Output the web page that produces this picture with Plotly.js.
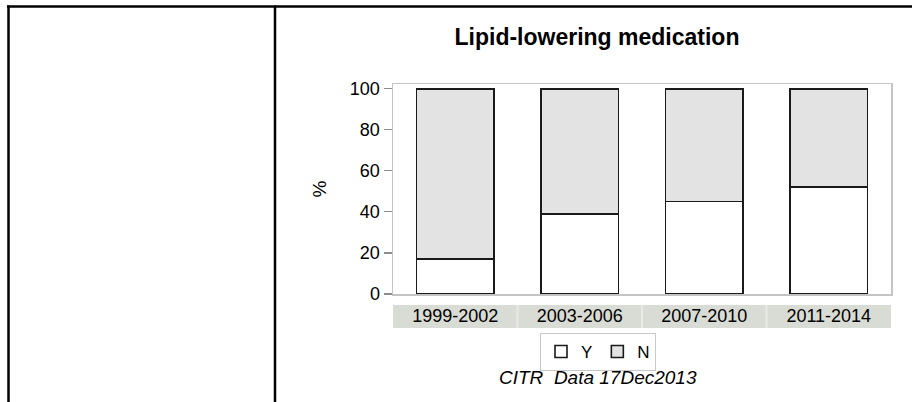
<!DOCTYPE html>
<html>
<head>
<meta charset="utf-8">
<script src="https://cdn.plot.ly/plotly-3.0.1.min.js"></script>
<style>
  html, body { margin: 0; padding: 0; background: #ffffff; }
  #chart { width: 912px; height: 402px; }
</style>
</head>
<body>
<div id="chart"></div>
<script>
// ---- data ----
var periods = ['1999-2002', '2003-2006', '2007-2010', '2011-2014'];
var pctYes = [17, 39, 45, 52];
var pctNo = [83, 61, 55, 48];
var seriesNames = ['Y', 'N'];
var yTicks = [0, 20, 40, 60, 80, 100];
var chartTitle = 'Lipid-lowering medication';
var yTitle = '%';
var footnote = 'CITR  Data 17Dec2013';

// ---- geometry (pixels) ----
var W = 912, H = 402;
var plotL = 393, plotR = 891, plotT = 84, plotB = 294;
var pw = plotR - plotL, ph = plotB - plotT;
function px2x(p) { return (p - plotL) / pw; }
function py2y(p) { return (plotB - p) / ph; }

var FONT = 'Liberation Sans, Arial, sans-serif';

var traces = [
  {
    type: 'bar', name: seriesNames[0], x: periods, y: pctYes,
    marker: { color: '#ffffff', line: { color: '#1a1a1a', width: 1.6 } },
    hoverinfo: 'skip'
  },
  {
    type: 'bar', name: seriesNames[1], x: periods, y: pctNo,
    marker: { color: '#e3e3e3', line: { color: '#1a1a1a', width: 1.6 } },
    hoverinfo: 'skip'
  }
];

var shapes = [];
// category strip below the plot
periods.forEach(function (p, i) {
  shapes.push({
    type: 'rect', xref: 'x', yref: 'paper',
    x0: i - 0.5, x1: i + 0.5, y0: py2y(328), y1: py2y(305),
    fillcolor: '#d9dbd5', line: { width: 0 }, layer: 'below'
  });
  if (i > 0) {
    shapes.push({
      type: 'line', xref: 'x', yref: 'paper',
      x0: i - 0.5, x1: i - 0.5, y0: py2y(328), y1: py2y(305),
      line: { color: '#e9e9e5', width: 2 }, layer: 'below'
    });
  }
});
// outer table frame lines
shapes.push({ type: 'line', xref: 'paper', yref: 'paper',
  x0: px2x(7), x1: px2x(913), y0: py2y(6.5), y1: py2y(6.5),
  line: { color: '#000000', width: 2.5 } });
shapes.push({ type: 'line', xref: 'paper', yref: 'paper',
  x0: px2x(8.5), x1: px2x(8.5), y0: py2y(5.5), y1: py2y(405),
  line: { color: '#000000', width: 2.5 } });
shapes.push({ type: 'line', xref: 'paper', yref: 'paper',
  x0: px2x(275), x1: px2x(275), y0: py2y(5.5), y1: py2y(405),
  line: { color: '#000000', width: 2.5 } });

var layout = {
  width: W, height: H,
  margin: { l: plotL, r: W - plotR, t: plotT, b: H - plotB, pad: 0 },
  paper_bgcolor: '#ffffff', plot_bgcolor: '#ffffff',
  barmode: 'stack', bargap: 0.38,
  showlegend: true,
  font: { family: FONT, size: 18, color: '#000000' },
  title: {
    text: '<b>' + chartTitle + '</b>',
    font: { family: FONT, size: 23, color: '#000000' },
    xref: 'container', yref: 'container',
    x: 597 / W, xanchor: 'center', y: 1 - 37 / H, yanchor: 'middle'
  },
  xaxis: {
    type: 'category', range: [-0.5, periods.length - 0.5],
    showline: true, mirror: true, linecolor: '#c4c4c4', linewidth: 1.5,
    showgrid: false, zeroline: false, ticks: '',
    ticklabelstandoff: 5,
    tickfont: { family: FONT, size: 18, color: '#000000' },
    fixedrange: true
  },
  yaxis: {
    range: [0, 102.3], tickvals: yTicks,
    showline: true, mirror: true, linecolor: '#c4c4c4', linewidth: 1.5,
    showgrid: false, zeroline: false,
    ticks: 'outside', ticklen: 8, tickcolor: '#8c8c8c', tickwidth: 1.2,
    tickfont: { family: FONT, size: 18, color: '#000000' },
    title: { text: yTitle, font: { family: FONT, size: 19, color: '#000000' }, standoff: 18 },
    fixedrange: true
  },
  legend: {
    orientation: 'h', traceorder: 'normal',
    x: px2x(598), xanchor: 'center', y: py2y(333), yanchor: 'top',
    bordercolor: '#c8c8c8', borderwidth: 1, bgcolor: '#ffffff',
    font: { family: FONT, size: 17, color: '#000000' },
    itemclick: false, itemdoubleclick: false
  },
  annotations: [
    {
      text: '<i>' + footnote + '</i>', showarrow: false,
      xref: 'paper', yref: 'paper', x: px2x(598), y: py2y(377),
      xanchor: 'center', yanchor: 'middle',
      font: { family: FONT, size: 19, color: '#000000' }
    }
  ],
  shapes: shapes
};

Plotly.newPlot('chart', traces, layout, { displayModeBar: false, staticPlot: true });
</script>
</body>
</html>
